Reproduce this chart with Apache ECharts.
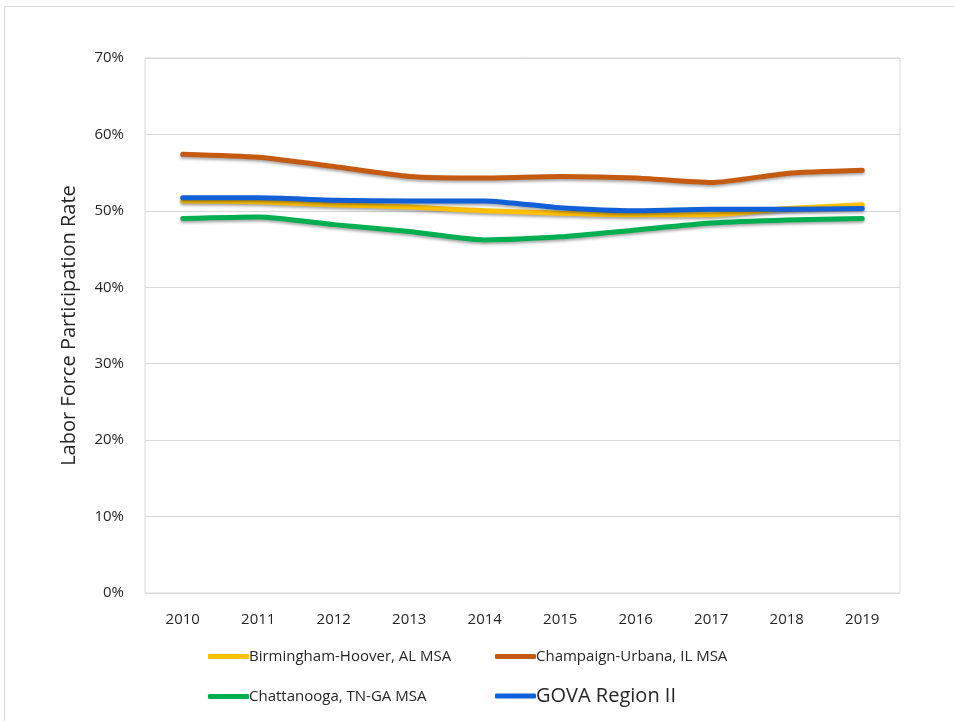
<!DOCTYPE html>
<html>
<head>
<meta charset="utf-8">
<script src="https://cdn.jsdelivr.net/npm/echarts@6/dist/echarts.min.js"></script>
<style>
  html, body { margin: 0; padding: 0; background: #fff; }
  #chart { width: 954px; height: 721px; }
</style>
</head>
<body>
<div id="chart"></div>
<script>
const years = ['2010', '2011', '2012', '2013', '2014', '2015', '2016', '2017', '2018', '2019']
const birmingham = [51.3, 51.2, 50.8, 50.5, 50.0, 49.7, 49.5, 49.5, 50.3, 50.8]
const champaign = [57.4, 57.0, 55.8, 54.5, 54.3, 54.5, 54.3, 53.7, 54.9, 55.3]
const chattanooga = [49.0, 49.2, 48.2, 47.3, 46.2, 46.6, 47.5, 48.4, 48.8, 49.0]
const gova = [51.7, 51.7, 51.4, 51.3, 51.3, 50.4, 50.0, 50.2, 50.2, 50.3]

const names = ['Birmingham-Hoover, AL MSA', 'Champaign-Urbana, IL MSA', 'Chattanooga, TN-GA MSA', 'GOVA Region II']
const colors = ['#FFC000', '#C55A11', '#00B050', '#1160D8']

const chart = echarts.init(document.getElementById('chart'))

const makeSeries = (name, data, color) => ({
  name: name,
  type: 'line',
  data: data,
  smooth: 0.2,
  symbol: 'none',
  lineStyle: {
    width: 5,
    color: color,
    cap: 'round',
    join: 'round',
    shadowColor: 'rgba(0,0,0,0.35)',
    shadowBlur: 3,
    shadowOffsetY: 2
  },
  itemStyle: { color: color }
})

const legendText = (size) => ({ fontFamily: 'Open Sans', fontSize: size, color: '#262626', padding: [0, 0, 0, -5] })

const legendBase = {
  icon: 'roundRect',
  itemWidth: 41,
  itemHeight: 5,
  itemGap: 0,
  textStyle: legendText(15)
}

const options = {
  animation: false,
  backgroundColor: '#fff',
  color: colors,
  graphic: [
    {
      type: 'rect',
      shape: { x: 4.5, y: 6.5, width: 960, height: 720 },
      style: { fill: 'none', stroke: '#d9d9d9', lineWidth: 1 },
      silent: true
    }
  ],
  grid: {
    show: true,
    borderColor: '#d9d9d9',
    borderWidth: 1,
    left: 145,
    right: 54,
    top: 58,
    bottom: 128
  },
  legend: [
    Object.assign({}, legendBase, { data: [names[0]], left: 203, top: 644 }),
    Object.assign({}, legendBase, { data: [names[1]], left: 490, top: 644 }),
    Object.assign({}, legendBase, { data: [names[2]], left: 203, top: 684 }),
    Object.assign({}, legendBase, { data: [names[3]], left: 490, top: 681, textStyle: legendText(20) })
  ],
  xAxis: {
    type: 'category',
    data: years,
    boundaryGap: true,
    axisLine: { show: false },
    axisTick: { show: false },
    axisLabel: { fontFamily: 'Open Sans', fontSize: 15, color: '#262626', margin: 19 }
  },
  yAxis: {
    type: 'value',
    min: 0,
    max: 70,
    interval: 10,
    name: 'Labor Force Participation Rate',
    nameLocation: 'middle',
    nameGap: 66,
    nameTextStyle: { fontFamily: 'Open Sans', fontSize: 20, color: '#262626' },
    axisLine: { show: false },
    axisTick: { show: false },
    axisLabel: {
      fontFamily: 'Open Sans', fontSize: 15, color: '#262626', margin: 21,
      formatter: (value) => `${value}%`
    },
    splitLine: { lineStyle: { color: '#d9d9d9', width: 1 } }
  },
  series: [
    makeSeries(names[0], birmingham, colors[0]),
    makeSeries(names[1], champaign, colors[1]),
    makeSeries(names[2], chattanooga, colors[2]),
    makeSeries(names[3], gova, colors[3])
  ]
}
chart.setOption(options)
</script>
</body>
</html>
